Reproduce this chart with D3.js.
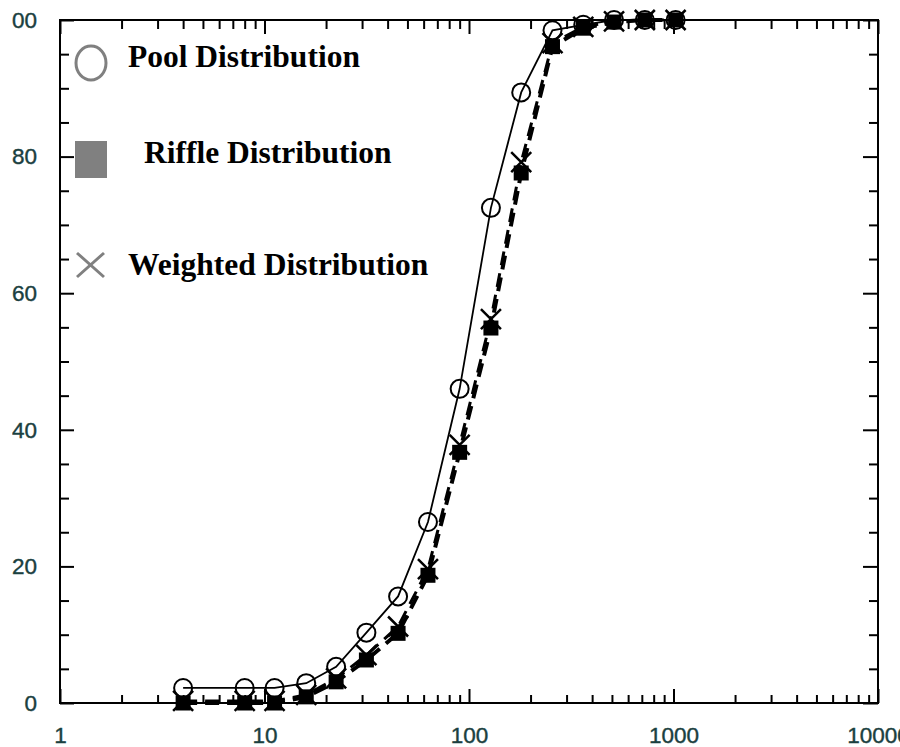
<!DOCTYPE html>
<html>
<head>
<meta charset="utf-8">
<script src="https://cdn.jsdelivr.net/npm/d3@7"></script>
<style>
  html, body { margin: 0; padding: 0; background: #fff; }
  svg { display: block; }
</style>
</head>
<body>
<svg id="chart" width="900" height="747"></svg>
<script>
// Particle size classes (mm) and cumulative percent finer for each distribution
const sizes    = [4, 8, 11.2, 16, 22.4, 31.5, 45, 63, 90, 128, 180, 256, 362, 512, 724, 1024];
const pool     = [2.2, 2.2, 2.2, 2.9, 5.3, 10.3, 15.6, 26.5, 46, 72.5, 89.4, 98.5, 99.3, 100, 100, 100];
const riffle   = [0, 0, 0, 0.9, 3.1, 6.3, 10.2, 18.7, 36.7, 54.9, 77.6, 96.1, 98.8, 99.7, 100, 100];
const weighted = [0.3, 0.3, 0.3, 1.2, 3.6, 7.0, 11.2, 19.6, 37.8, 56.2, 79.2, 96.6, 99.0, 99.8, 100, 100];

const xTickLabels = [1, 10, 100, 1000, 10000];
const yTickLabels = [0, 20, 40, 60, 80, 100];
const legendNames = ["Pool Distribution", "Riffle Distribution", "Weighted Distribution"];

const svg = d3.select("#chart");
const M = { left: 60, right: 878, top: 20, bottom: 703 };

const x = d3.scaleLog().domain([1, 10000]).range([M.left, M.right]);
const y = d3.scaleLinear().domain([0, 100]).range([M.bottom, M.top]);

const isDecade = v => Math.abs(Math.log10(v) - Math.round(Math.log10(v))) < 1e-9;
const logTicks = x.ticks();
const yTicks = d3.range(0, 101, 5);

// Frame
svg.append("rect")
  .attr("x", M.left).attr("y", M.top)
  .attr("width", M.right - M.left).attr("height", M.bottom - M.top)
  .attr("fill", "none").attr("stroke", "#000").attr("stroke-width", 2);

// Inward tick marks on all four sides
function styleTicks(g, majorTest, major, minor) {
  g.select(".domain").remove();
  g.selectAll(".tick line")
    .attr("stroke", "#000").attr("stroke-width", 2)
    .each(function(d) {
      const len = majorTest(d) ? major : minor;
      const ln = d3.select(this);
      if (ln.attr("y2") !== null && +ln.attr("y2") !== 0) ln.attr("y2", len * Math.sign(+ln.attr("y2")));
      if (ln.attr("x2") !== null && +ln.attr("x2") !== 0) ln.attr("x2", len * Math.sign(+ln.attr("x2")));
    });
  g.selectAll(".tick text").remove();
}

svg.append("g").attr("transform", `translate(0,${M.bottom})`)
  .call(d3.axisBottom(x).tickValues(logTicks).tickSize(-1))
  .call(g => styleTicks(g, isDecade, 14, 8));
svg.append("g").attr("transform", `translate(0,${M.top})`)
  .call(d3.axisTop(x).tickValues(logTicks).tickSize(-1))
  .call(g => styleTicks(g, isDecade, 14, 9));
svg.append("g").attr("transform", `translate(${M.left},0)`)
  .call(d3.axisLeft(y).tickValues(yTicks).tickSize(-1))
  .call(g => styleTicks(g, d => d % 20 === 0, 14, 9));
svg.append("g").attr("transform", `translate(${M.right},0)`)
  .call(d3.axisRight(y).tickValues(yTicks).tickSize(-1))
  .call(g => styleTicks(g, d => d % 20 === 0, 15, 9));

// Tick labels
const labelColor = "#1a4040";
function styleLabels(g) {
  g.select(".domain").remove();
  g.selectAll("text").attr("font-family", "Liberation Sans, Arial, sans-serif")
    .attr("font-size", 22.5).attr("fill", labelColor)
    .attr("stroke", labelColor).attr("stroke-width", 0.4);
}

svg.append("g").attr("transform", `translate(0,${M.bottom})`)
  .call(d3.axisBottom(x).tickValues(xTickLabels).tickSize(0).tickPadding(24).tickFormat(d3.format("d")))
  .call(styleLabels);

// Left labels sit in a narrow viewport that starts a little in from the page edge
const yLabelPort = svg.append("svg")
  .attr("x", 12).attr("y", 0).attr("width", 60).attr("height", 747)
  .attr("overflow", "hidden");
yLabelPort.append("g").attr("transform", `translate(${M.left - 12},0)`)
  .call(d3.axisLeft(y).tickValues(yTickLabels).tickSize(0).tickPadding(23))
  .call(styleLabels);

// Curves
const rows = sizes.map((s, i) => ({ s, pool: pool[i], riffle: riffle[i], weighted: weighted[i] }));
const lineFor = key => d3.line().x(d => x(d.s)).y(d => y(d[key]));

svg.append("path").datum(rows).attr("d", lineFor("weighted"))
  .attr("fill", "none").attr("stroke", "#000").attr("stroke-width", 3)
  .attr("stroke-dasharray", "14 8");
svg.append("path").datum(rows).attr("d", lineFor("riffle"))
  .attr("fill", "none").attr("stroke", "#000").attr("stroke-width", 4)
  .attr("stroke-dasharray", "14 8");
svg.append("path").datum(rows).attr("d", lineFor("pool"))
  .attr("fill", "none").attr("stroke", "#000").attr("stroke-width", 1.8);

// Markers: riffle squares, weighted crosses, pool circles
const sq = 15;
svg.append("g").selectAll("rect").data(rows).join("rect")
  .attr("x", d => x(d.s) - sq / 2).attr("y", d => y(d.riffle) - sq / 2)
  .attr("width", sq).attr("height", sq).attr("fill", "#000");

const arm = 10;
svg.append("g").selectAll("path").data(rows).join("path")
  .attr("transform", d => `translate(${x(d.s)},${y(d.weighted)})`)
  .attr("d", `M${-arm},${-arm}L${arm},${arm}M${-arm},${arm}L${arm},${-arm}`)
  .attr("stroke", "#000").attr("stroke-width", 2.5).attr("fill", "none");

svg.append("g").selectAll("circle").data(rows).join("circle")
  .attr("cx", d => x(d.s)).attr("cy", d => y(d.pool)).attr("r", 9)
  .attr("fill", "none").attr("stroke", "#000").attr("stroke-width", 2);

// Legend
const legendGrey = "#808080";
const lg = svg.append("g");
const legendFont = { family: "Liberation Serif, Times New Roman, serif", size: 31.5 };

lg.append("ellipse").attr("cx", 91).attr("cy", 63).attr("rx", 15).attr("ry", 17)
  .attr("fill", "none").attr("stroke", legendGrey).attr("stroke-width", 3);
lg.append("rect").attr("x", 75).attr("y", 141).attr("width", 32).attr("height", 37)
  .attr("fill", legendGrey);
lg.append("path").attr("d", "M77,253L104,277M77,277L104,253")
  .attr("stroke", legendGrey).attr("stroke-width", 3).attr("fill", "none");

const legendText = [
  { x: 128, y: 67 },
  { x: 144, y: 163 },
  { x: 128, y: 275 }
];
lg.selectAll("text").data(legendNames).join("text")
  .attr("x", (d, i) => legendText[i].x).attr("y", (d, i) => legendText[i].y)
  .attr("font-family", legendFont.family).attr("font-size", legendFont.size)
  .attr("font-weight", "bold").attr("fill", "#000")
  .text(d => d);
</script>
</body>
</html>
